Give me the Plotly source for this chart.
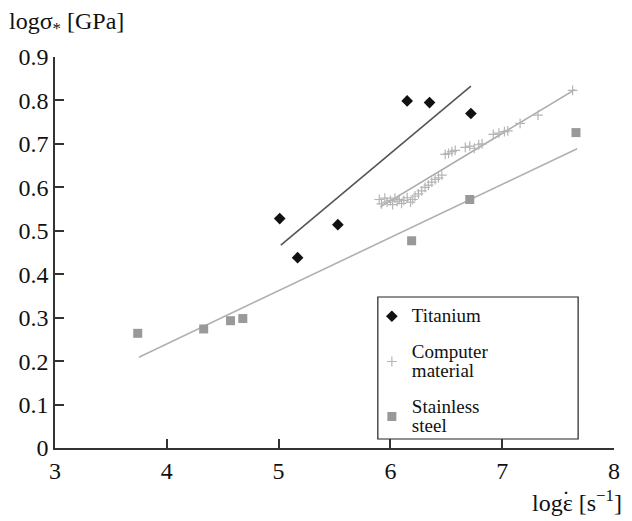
import plotly.graph_objects as go

# Titanium
ti_x = [5.01, 5.17, 5.53, 6.15, 6.35, 6.72]
ti_y = [0.528, 0.438, 0.514, 0.799, 0.795, 0.770]
ti_fit_x = [5.02, 6.72]
ti_fit_y = [0.467, 0.833]

# Computer material
cm_x = [5.90, 5.92, 5.95, 5.97, 6.00, 6.02, 6.04, 6.06, 6.08, 6.10, 6.12, 6.15, 6.18, 6.20, 6.22,
        6.25, 6.28, 6.31, 6.34, 6.37, 6.40, 6.43, 6.46,
        6.49, 6.52, 6.55, 6.58,
        6.67, 6.71, 6.75, 6.79, 6.82,
        6.92, 6.97, 7.02, 7.05,
        7.16, 7.32, 7.63]
cm_y = [0.572, 0.562, 0.575, 0.566, 0.570, 0.560, 0.575, 0.568, 0.572, 0.563, 0.570, 0.576, 0.566, 0.572, 0.580,
        0.585, 0.592, 0.600, 0.605, 0.612, 0.618, 0.622, 0.628,
        0.676, 0.678, 0.682, 0.685,
        0.692, 0.695, 0.690, 0.698, 0.700,
        0.722, 0.725, 0.728, 0.730,
        0.747, 0.766, 0.823]
cm_fit_x = [5.91, 7.65]
cm_fit_y = [0.555, 0.825]

# Stainless steel
ss_x = [3.74, 4.33, 4.57, 4.68, 6.19, 6.71, 7.66]
ss_y = [0.264, 0.274, 0.293, 0.298, 0.477, 0.572, 0.726]
ss_fit_x = [3.75, 7.67]
ss_fit_y = [0.209, 0.689]

x_ticks = [3, 4, 5, 6, 7, 8]
y_ticks = [0, 0.1, 0.2, 0.3, 0.4, 0.5, 0.6, 0.7, 0.8, 0.9]

FONT = "Liberation Serif"
FS = 24
LEG = '<span style="font-size:19px">{}</span>'

L, R, T, B = 55, 16, 57, 73
PW, PH = 632 - L - R, 521 - T - B


def px(xp):
    return (xp - L) / PW


def py(yp):
    return (521 - B - yp) / PH


fig = go.Figure()

fig.add_trace(go.Scatter(x=ti_fit_x, y=ti_fit_y, mode="lines",
                         line=dict(color="#555555", width=1.6), showlegend=False, hoverinfo="skip"))
fig.add_trace(go.Scatter(x=cm_fit_x, y=cm_fit_y, mode="lines",
                         line=dict(color="#aaaaaa", width=1.6), showlegend=False, hoverinfo="skip"))
fig.add_trace(go.Scatter(x=ss_fit_x, y=ss_fit_y, mode="lines",
                         line=dict(color="#b0b0b0", width=1.6), showlegend=False, hoverinfo="skip"))

fig.add_trace(go.Scatter(x=ti_x, y=ti_y, mode="markers", name=LEG.format("Titanium"), legendgroup="a",
                         marker=dict(symbol="diamond", size=9, color="#111111")))
fig.add_trace(go.Scatter(x=cm_x, y=cm_y, mode="markers",
                         name=LEG.format("Computer") + "<br>" + LEG.format("material"), legendgroup="b",
                         marker=dict(symbol="cross-thin", size=7, color="#b5b5b5",
                                     line=dict(color="#b5b5b5", width=1.2))))
fig.add_trace(go.Scatter(x=ss_x, y=ss_y, mode="markers",
                         name=LEG.format("Stainless") + "<br>" + LEG.format("steel"), legendgroup="c",
                         marker=dict(symbol="square", size=9, color="#999999")))

fig.update_layout(
    width=632, height=521,
    margin=dict(l=L, r=R, t=T, b=B),
    paper_bgcolor="white", plot_bgcolor="white",
    font=dict(family=FONT, size=FS, color="#111111"),
    showlegend=True,
    legend=dict(x=px(373), y=py(300), xanchor="left", yanchor="top",
                borderwidth=0, bgcolor="rgba(0,0,0,0)",
                font=dict(family=FONT, size=15, color="#111111"),
                tracegroupgap=13),
    shapes=[dict(type="rect", xref="paper", yref="paper",
                 x0=px(379), x1=px(580), y0=py(439), y1=py(297),
                 line=dict(color="#222222", width=1.2), fillcolor="white", layer="below")],
    xaxis=dict(range=[3, 8], tickvals=x_ticks, ticktext=[str(v) for v in x_ticks],
               showgrid=False, zeroline=False, showline=True, linecolor="#333333", linewidth=1.5,
               ticks="inside", ticklen=9, tickcolor="#333333", tickwidth=1.5, mirror=False),
    yaxis=dict(range=[0, 0.9], tickvals=y_ticks, ticktext=["0"] + [f"{v:.1f}" for v in y_ticks[1:]],
               showgrid=False, zeroline=False, showline=True, linecolor="#333333", linewidth=1.5,
               ticks="inside", ticklen=9, tickcolor="#333333", tickwidth=1.5, mirror=False),
    annotations=[
        dict(text="logσ<sub>*</sub> [GPa]", xref="paper", yref="paper",
             x=px(7), y=py(6), xanchor="left", yanchor="top",
             showarrow=False, font=dict(family=FONT, size=FS, color="#111111")),
        dict(text="logε [s<sup>−1</sup>]", xref="paper", yref="paper",
             x=px(626), y=py(518), xanchor="right", yanchor="bottom",
             showarrow=False, font=dict(family=FONT, size=FS, color="#111111")),
        dict(text="˙", xref="paper", yref="paper",
             x=px(568), y=py(514), xanchor="center", yanchor="bottom",
             showarrow=False, font=dict(family=FONT, size=FS, color="#111111")),
    ],
)

fig.write_html("out.html", post_script="document.body.style.margin='0';",
               config={"displayModeBar": False})
